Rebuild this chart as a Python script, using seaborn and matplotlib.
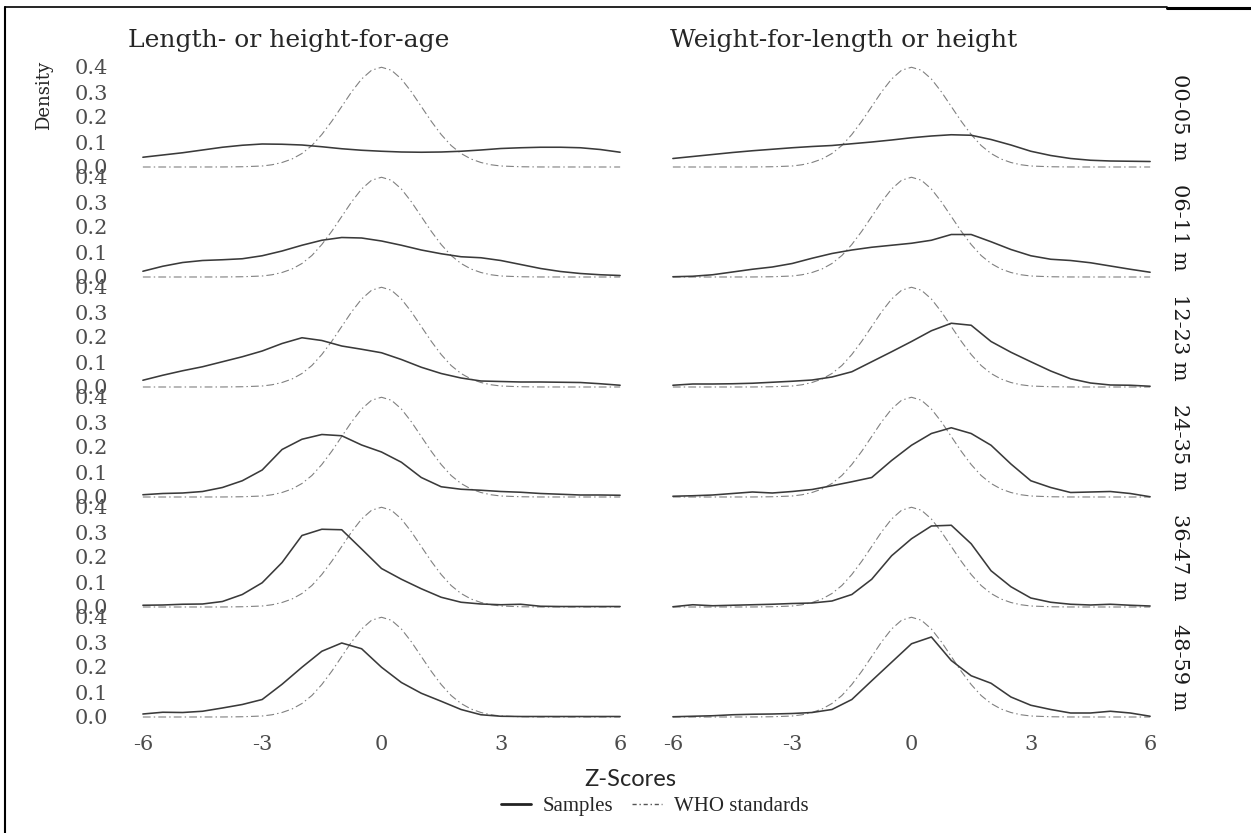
import numpy as np
import pandas as pd
import matplotlib.pyplot as plt
import seaborn as sns
from matplotlib.lines import Line2D

# ---------------------------------------------------------------------
# Data (z-score grid, densities per panel)
# ---------------------------------------------------------------------
Z = [-6, -5.5, -5, -4.5, -4, -3.5, -3, -2.5, -2, -1.5, -1, -0.5, 0,
     0.5, 1, 1.5, 2, 2.5, 3, 3.5, 4, 4.5, 5, 5.5, 6]

AGE_GROUPS = ["00-05 m", "06-11 m", "12-23 m", "24-35 m", "36-47 m", "48-59 m"]
INDICATORS = ["Length- or height-for-age", "Weight-for-length or height"]

# Length- or height-for-age, sample densities
LHA_00_05 = [0.039, 0.048, 0.057, 0.068, 0.079, 0.087, 0.092, 0.091, 0.088, 0.081, 0.073, 0.067, 0.063,
             0.060, 0.059, 0.060, 0.063, 0.068, 0.074, 0.077, 0.079, 0.079, 0.077, 0.070, 0.059]
LHA_06_11 = [0.023, 0.043, 0.058, 0.066, 0.069, 0.073, 0.085, 0.104, 0.127, 0.147, 0.158, 0.156, 0.144,
             0.127, 0.108, 0.093, 0.081, 0.077, 0.066, 0.050, 0.034, 0.022, 0.014, 0.009, 0.006]
LHA_12_23 = [0.027, 0.047, 0.065, 0.081, 0.101, 0.121, 0.144, 0.174, 0.197, 0.186, 0.164, 0.151, 0.137,
             0.110, 0.079, 0.054, 0.036, 0.024, 0.022, 0.020, 0.020, 0.019, 0.018, 0.013, 0.007]
LHA_24_35 = [0.009, 0.014, 0.016, 0.022, 0.038, 0.065, 0.108, 0.190, 0.231, 0.250, 0.245, 0.208, 0.180,
             0.139, 0.078, 0.041, 0.031, 0.027, 0.022, 0.019, 0.014, 0.011, 0.008, 0.008, 0.007]
LHA_36_47 = [0.007, 0.008, 0.011, 0.012, 0.022, 0.050, 0.097, 0.178, 0.286, 0.311, 0.309, 0.232, 0.154,
             0.111, 0.073, 0.039, 0.019, 0.012, 0.009, 0.011, 0.003, 0.002, 0.002, 0.002, 0.002]
LHA_48_59 = [0.012, 0.019, 0.018, 0.023, 0.036, 0.050, 0.070, 0.131, 0.199, 0.263, 0.296, 0.273, 0.199,
             0.138, 0.095, 0.063, 0.030, 0.009, 0.003, 0.002, 0.002, 0.002, 0.002, 0.002, 0.002]

# Weight-for-length or height, sample densities
WFH_00_05 = [0.034, 0.042, 0.050, 0.058, 0.065, 0.071, 0.077, 0.082, 0.086, 0.093, 0.100, 0.108, 0.117,
             0.124, 0.129, 0.127, 0.110, 0.088, 0.063, 0.046, 0.034, 0.027, 0.024, 0.023, 0.022]
WFH_06_11 = [0.001, 0.003, 0.009, 0.020, 0.031, 0.040, 0.054, 0.075, 0.094, 0.108, 0.119, 0.127, 0.135,
             0.147, 0.170, 0.170, 0.141, 0.110, 0.085, 0.071, 0.066, 0.057, 0.044, 0.031, 0.019]
WFH_12_23 = [0.007, 0.012, 0.012, 0.013, 0.015, 0.019, 0.023, 0.028, 0.040, 0.061, 0.101, 0.141, 0.182,
             0.225, 0.255, 0.247, 0.182, 0.139, 0.101, 0.064, 0.033, 0.016, 0.008, 0.007, 0.003]
WFH_24_35 = [0.003, 0.005, 0.008, 0.014, 0.020, 0.016, 0.022, 0.030, 0.045, 0.061, 0.078, 0.146, 0.207,
             0.254, 0.277, 0.254, 0.207, 0.132, 0.065, 0.038, 0.018, 0.020, 0.022, 0.014, 0.001]
WFH_36_47 = [0.001, 0.009, 0.005, 0.007, 0.009, 0.011, 0.014, 0.016, 0.024, 0.050, 0.111, 0.205, 0.273,
             0.324, 0.327, 0.253, 0.145, 0.081, 0.036, 0.019, 0.011, 0.008, 0.011, 0.007, 0.004]
WFH_48_59 = [0.001, 0.003, 0.005, 0.009, 0.011, 0.012, 0.014, 0.018, 0.030, 0.070, 0.145, 0.219, 0.293,
             0.320, 0.226, 0.165, 0.135, 0.080, 0.047, 0.030, 0.016, 0.016, 0.023, 0.016, 0.003]

# WHO reference curve (same in every panel)
WHO_Z = [-6, -5, -4, -3.5, -3, -2.75, -2.5, -2.25, -2, -1.75, -1.5, -1.25, -1, -0.75, -0.5, -0.25, 0,
         0.25, 0.5, 0.75, 1, 1.25, 1.5, 1.75, 2, 2.25, 2.5, 2.75, 3, 3.5, 4, 5, 6]
WHO_DENS = [0.0, 0.0, 0.0001, 0.001, 0.004, 0.009, 0.018, 0.032, 0.054, 0.086, 0.130, 0.183, 0.242, 0.301,
            0.352, 0.387, 0.399, 0.387, 0.352, 0.301, 0.242, 0.183, 0.130, 0.086, 0.054, 0.032, 0.018,
            0.009, 0.004, 0.001, 0.0001, 0.0, 0.0]

LHA = [LHA_00_05, LHA_06_11, LHA_12_23, LHA_24_35, LHA_36_47, LHA_48_59]
WFH = [WFH_00_05, WFH_06_11, WFH_12_23, WFH_24_35, WFH_36_47, WFH_48_59]

# long format table for seaborn
rows = []
for ind, series in zip(INDICATORS, [LHA, WFH]):
    for age, vals in zip(AGE_GROUPS, series):
        rows += [(ind, age, z, d) for z, d in zip(Z, vals)]
df = pd.DataFrame(rows, columns=["indicator", "age", "z", "density"])
who = pd.DataFrame({"z": WHO_Z, "density": WHO_DENS})

# ---------------------------------------------------------------------
# Plot
# ---------------------------------------------------------------------
sns.set_style("white")
plt.rcParams["font.family"] = ["DejaVu Serif"]
plt.rcParams["axes.unicode_minus"] = False

W, H = 1251, 833
SAMPLE_COLOR = "#3a3a3a"
WHO_COLOR = "#808080"
WHO_DASH = (7.0, 2.8, 1.3, 2.8)

fig, axes = plt.subplots(6, 2, figsize=(W / 100, H / 100), dpi=100, sharex=True, sharey=True)
fig.subplots_adjust(left=119 / W, right=1174 / W, top=1 - 62 / H, bottom=1 - 722 / H,
                    hspace=0, wspace=0.0095)

for c, ind in enumerate(INDICATORS):
    for r, age in enumerate(AGE_GROUPS):
        ax = axes[r, c]
        sub = df[(df.indicator == ind) & (df.age == age)]
        sns.lineplot(data=who, x="z", y="density", ax=ax, color=WHO_COLOR,
                     linewidth=0.8, estimator=None)
        ax.lines[-1].set_dashes(WHO_DASH)
        sns.lineplot(data=sub, x="z", y="density", ax=ax, color=SAMPLE_COLOR,
                     linewidth=1.15, estimator=None)
        ax.set_xlim(-6.6, 6.6)
        ax.set_ylim(-0.02, 0.42)
        ax.set_xticks([-6, -3, 0, 3, 6])
        ax.set_yticks([0.0, 0.1, 0.2, 0.3, 0.4])
        ax.set_yticklabels(["0.0", "0.1", "0.2", "0.3", "0.4"])
        ax.set_xlabel("")
        ax.set_ylabel("")
        ax.tick_params(axis="both", length=0, labelsize=15, labelcolor="#4d4d4d")
        ax.tick_params(axis="y", pad=8)
        ax.tick_params(axis="x", pad=9)
        sns.despine(ax=ax, left=True, bottom=True)
        ax.patch.set_alpha(0)
        if c == 1:
            ax.text(0.992, 0.5, age, transform=ax.transAxes, rotation=-90,
                    ha="left", va="center", fontsize=15, color="#1a1a1a")

# column titles
fig.text(128 / W, 1 - 47 / H, INDICATORS[0], fontsize=18, va="baseline", ha="left")
fig.text(670 / W, 1 - 47 / H, INDICATORS[1], fontsize=18, va="baseline", ha="left")

fig.text(44 / W, 1 - 95 / H, "Density", rotation=90, ha="center", va="center", fontsize=13)
fig.text(630 / W, 1 - 780 / H, "Z-Scores", family=["Lato", "DejaVu Sans"], fontsize=17,
         ha="center", va="center")

handles = [Line2D([], [], color="#222222", linewidth=2.0),
           Line2D([], [], color="#555555", linewidth=1.0, dashes=(3, 2, 1, 2))]
fig.legend(handles, ["Samples", "WHO standards"], loc="center",
           bbox_to_anchor=(655 / W, 1 - 806 / H), ncol=2, frameon=False,
           prop={"family": "Liberation Serif", "size": 15},
           handlelength=1.4, columnspacing=0.9, handletextpad=0.6)

# page border fragments visible in the reference
fig.add_artist(Line2D([5 / W, 5 / W], [0, 1 - 7 / H], transform=fig.transFigure,
                      color="black", linewidth=1.5))
fig.add_artist(Line2D([5 / W, 1167 / W], [1 - 7 / H, 1 - 7 / H], transform=fig.transFigure,
                      color="black", linewidth=1.2))
fig.add_artist(Line2D([1167 / W, 1.0], [1 - 8 / H, 1 - 8 / H], transform=fig.transFigure,
                      color="black", linewidth=2.2))

fig.savefig("out.png", dpi=100)
